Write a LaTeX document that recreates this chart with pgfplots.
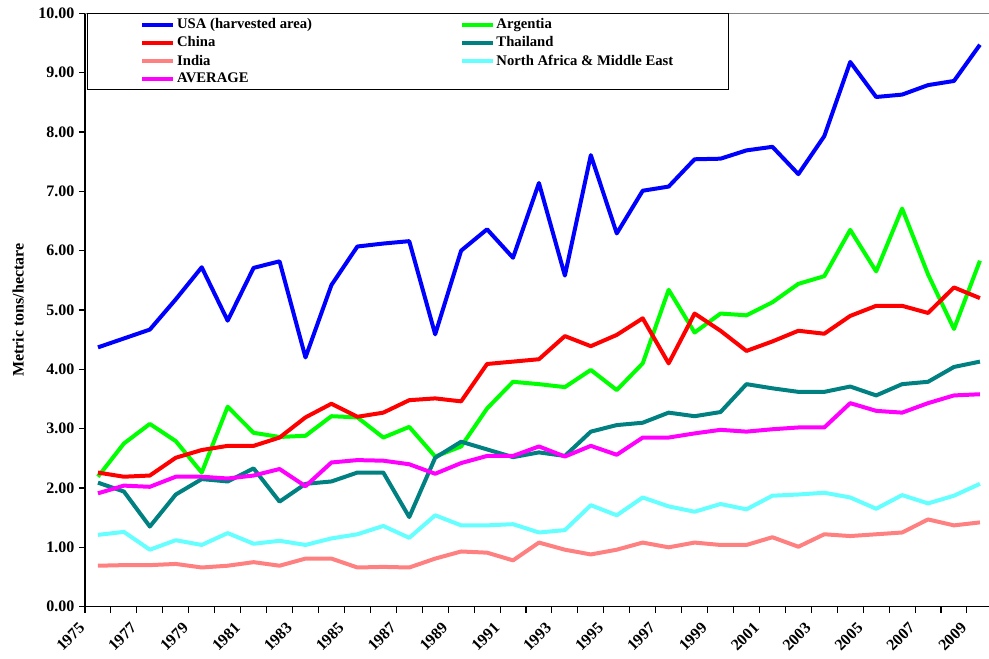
\documentclass[border=0pt]{standalone}
\usepackage{fontspec}
\setmainfont{Liberation Serif}
\usepackage{pgfplots}
\usepackage{pgfplotstable}
\pgfplotsset{compat=1.18}
\definecolor{cusa}{RGB}{0,0,255}
\definecolor{carg}{RGB}{0,255,0}
\definecolor{cchi}{RGB}{255,0,0}
\definecolor{ctha}{RGB}{0,128,128}
\definecolor{cind}{RGB}{255,128,128}
\definecolor{cname}{RGB}{102,255,255}
\definecolor{cavg}{RGB}{255,0,255}

\pgfplotstableread{
year usa arg chi tha ind name avg
1975 4.37 2.19 2.26 2.09 0.69 1.21 1.91
1976 4.52 2.75 2.19 1.94 0.70 1.26 2.04
1977 4.67 3.08 2.21 1.35 0.70 0.96 2.02
1978 5.18 2.79 2.51 1.89 0.72 1.12 2.19
1979 5.72 2.26 2.64 2.15 0.66 1.04 2.19
1980 4.82 3.37 2.71 2.11 0.69 1.24 2.16
1981 5.71 2.93 2.71 2.33 0.75 1.06 2.21
1982 5.82 2.86 2.85 1.77 0.69 1.11 2.32
1983 4.20 2.88 3.19 2.07 0.81 1.04 2.03
1984 5.42 3.21 3.42 2.11 0.81 1.15 2.43
1985 6.07 3.19 3.20 2.26 0.66 1.22 2.47
1986 6.12 2.85 3.27 2.26 0.67 1.36 2.46
1987 6.16 3.03 3.48 1.51 0.66 1.16 2.40
1988 4.59 2.53 3.51 2.51 0.81 1.54 2.24
1989 6.00 2.70 3.46 2.78 0.93 1.37 2.42
1990 6.36 3.34 4.09 2.65 0.91 1.37 2.54
1991 5.88 3.79 4.13 2.52 0.78 1.39 2.54
1992 7.14 3.75 4.17 2.60 1.08 1.25 2.70
1993 5.58 3.70 4.56 2.54 0.96 1.29 2.53
1994 7.61 3.99 4.39 2.95 0.88 1.71 2.71
1995 6.29 3.65 4.58 3.06 0.96 1.54 2.56
1996 7.01 4.10 4.86 3.10 1.08 1.84 2.85
1997 7.08 5.34 4.10 3.27 1.00 1.69 2.85
1998 7.54 4.62 4.94 3.21 1.08 1.60 2.92
1999 7.55 4.94 4.65 3.28 1.04 1.73 2.98
2000 7.69 4.91 4.31 3.75 1.04 1.64 2.95
2001 7.75 5.13 4.47 3.68 1.17 1.87 2.99
2002 7.29 5.44 4.65 3.62 1.01 1.89 3.02
2003 7.93 5.57 4.60 3.62 1.22 1.92 3.02
2004 9.18 6.35 4.90 3.71 1.19 1.84 3.43
2005 8.59 5.65 5.07 3.56 1.22 1.65 3.30
2006 8.63 6.71 5.07 3.75 1.25 1.88 3.27
2007 8.79 5.60 4.95 3.79 1.47 1.74 3.43
2008 8.86 4.68 5.38 4.04 1.37 1.87 3.56
2009 9.47 5.83 5.20 4.13 1.42 2.07 3.58
}\data

\begin{document}
\begin{tikzpicture}
\begin{axis}[
  at={(0,0)}, anchor=south west,
  width=678pt, height=445pt, scale only axis,
  xmin=1974.5, xmax=2009.35, ymin=0, ymax=10,
  axis x line*=bottom, axis y line*=left,
  axis line style={-, line width=0.9pt, black},
  tick align=outside,
  major tick length=4.5pt,
  minor tick length=4.5pt,
  tick style={black, line width=0.8pt},
  xtick={1975,1977,...,2009},
  xticklabels={1975,1977,1979,1981,1983,1985,1987,1989,1991,1993,1995,1997,1999,2001,2003,2005,2007,2009},
  minor xtick={1974.5,1975.5,...,2009.5},
  major x tick style={draw=none},
  xticklabel style={font=\fontsize{12}{14}\selectfont\bfseries, inner sep=0pt, xshift=-15pt, yshift=-6.5pt, rotate=45, anchor=north east},
  ytick={0,1,...,10},
  yticklabel style={font=\fontsize{12}{14}\selectfont\bfseries, /pgf/number format/.cd, fixed, fixed zerofill, precision=2, assume math mode=true},
  ylabel={Metric tons/hectare},
  ylabel style={font=\fontsize{12}{14}\selectfont\bfseries, at={(rel axis cs:-0.0675,0.5)}, anchor=south, inner sep=0pt},
  no marks,
  every axis plot/.append style={line width=3pt, line join=round},
  legend columns=2,
  legend cell align=left,
  legend image code/.code={\draw[#1] (0pt,0pt) -- (23.25pt,0pt);},
  legend style={at={(0.0022,1)}, anchor=north west, draw=black, line width=0.75pt, fill=white,
    inner xsep=39.75pt, inner ysep=1.6pt, row sep=0.45pt,
    font=\fontsize{11}{13}\selectfont\bfseries,
    /tikz/every even column/.append style={column sep=78pt},
    /tikz/every odd column/.append style={column sep=-0.75pt}},
]
\draw[gray, line width=1pt] (rel axis cs:0,1) -- (rel axis cs:1,1);
\addplot[cusa] table[x=year,y=usa]{\data};
\addlegendentry{\makebox[132pt][l]{USA (harvested area)}}
\addplot[carg] table[x=year,y=arg]{\data};
\addlegendentry{\makebox[132pt][l]{Argentia}}
\addplot[cchi] table[x=year,y=chi]{\data};
\addlegendentry{\makebox[132pt][l]{China}}
\addplot[ctha] table[x=year,y=tha]{\data};
\addlegendentry{\makebox[132pt][l]{Thailand}}
\addplot[cind] table[x=year,y=ind]{\data};
\addlegendentry{\makebox[132pt][l]{India}}
\addplot[cname] table[x=year,y=name]{\data};
\addlegendentry{\makebox[132pt][l]{North Africa \& Middle East}}
\addplot[cavg] table[x=year,y=avg]{\data};
\addlegendentry{\makebox[132pt][l]{AVERAGE}}
\end{axis}
\pgfresetboundingbox
\path[use as bounding box] (-63.75pt,-39.2pt) rectangle (678pt,455pt);
\end{tikzpicture}
\end{document}
